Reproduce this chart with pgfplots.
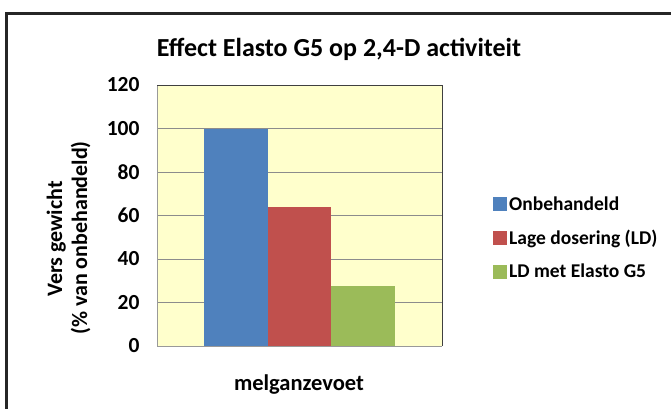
\documentclass[border=0pt]{standalone}
\usepackage{pgfplots}
\pgfplotsset{compat=1.18}
\usepackage{fontspec}
\setmainfont{Carlito}
\definecolor{cblue}{HTML}{4F81BD}
\definecolor{cred}{HTML}{C0504D}
\definecolor{cgreen}{HTML}{9BBB59}
\definecolor{plotbg}{HTML}{FFFFCC}
\definecolor{gridc}{HTML}{8C8C8C}
\begin{document}
\begin{tikzpicture}[x=1pt,y=1pt]
\useasboundingbox (0,0) rectangle (671,408);
\fill[white] (0,0) rectangle (671,408);
% outer chart frame (cropped on right and bottom)
\draw[line width=2.6pt, black!85] (672,394.5) -- (6.5,394.5) -- (6.5,-2);
\begin{axis}[
  at={(157pt,62pt)}, anchor=south west,
  width=285pt, height=261pt, scale only axis,
  ymin=0, ymax=120, ytick={0,20,...,120},
  xmin=-1, xmax=1, xtick={0}, xticklabels={},
  ybar=0pt, bar width=63.5pt,
  axis background/.style={fill=plotbg},
  ymajorgrids, grid style={gridc, line width=0.8pt},
  axis line style={draw=none},
  major tick length=0pt,
  /pgf/number format/assume math mode=true,
  yticklabel style={font=\fontsize{21.5}{25}\selectfont\bfseries, xshift=-14pt},
  legend style={at={(1,0.414)}, anchor=west, xshift=48pt, draw=none, fill=none,
    font=\fontsize{19.5}{23}\selectfont\bfseries, row sep=14pt,
    /tikz/every even column/.append style={column sep=2pt},
    legend cell align=left},
  legend image code/.code={\fill[#1] (0pt,-7pt) rectangle (14pt,7pt);},
  clip=false,
]
\addplot[fill=cblue, draw=none] coordinates {(0,100)};
\addplot[fill=cred, draw=none] coordinates {(0,64)};
\addplot[fill=cgreen, draw=none] coordinates {(0,27.7)};
\legend{Onbehandeld, Lage dosering (LD), LD met Elasto G5}
\draw[gray!80, line width=1pt] (rel axis cs:0,1) -- (rel axis cs:0,0) -- (rel axis cs:1,0);
\draw[black!75, line width=1pt] (rel axis cs:0,1) -- (rel axis cs:1,1) -- (rel axis cs:1,0);
\end{axis}
\node[anchor=base, font=\fontsize{26}{30}\selectfont\bfseries, inner sep=0pt] at (339,352) {Effect Elasto G5 op 2,4-D activiteit};
\node[anchor=base, font=\fontsize{22.5}{26}\selectfont\bfseries, inner sep=0pt] at (299,18) {melganzevoet};
\node[rotate=90, anchor=base, font=\fontsize{22}{26}\selectfont\bfseries, inner sep=0pt] at (62,169) {Vers gewicht};
\node[rotate=90, anchor=base, font=\fontsize{22}{26}\selectfont\bfseries, inner sep=0pt] at (87,170) {(\% van onbehandeld)};
\end{tikzpicture}
\end{document}
